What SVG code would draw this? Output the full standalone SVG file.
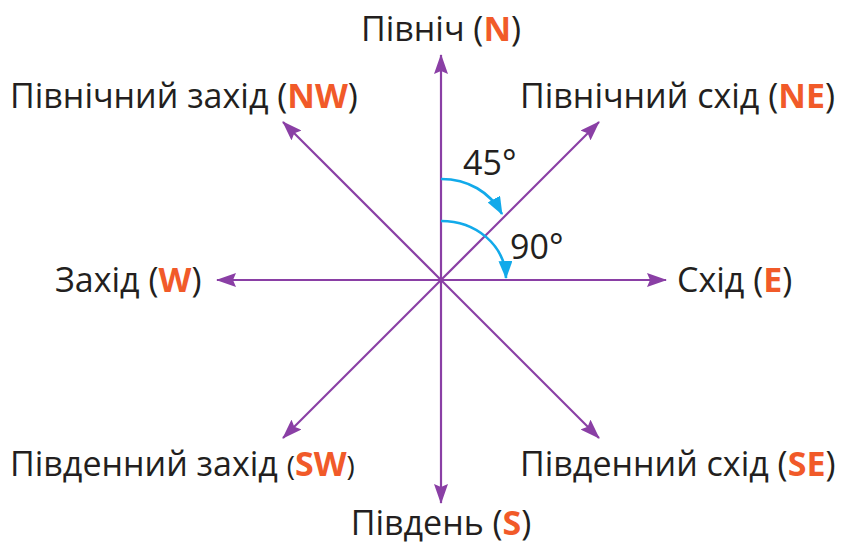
<svg xmlns="http://www.w3.org/2000/svg" width="847" height="545" viewBox="0 0 847 545">
<style>
.t{font-family:"Open Sans","Noto Sans","DejaVu Sans",sans-serif;font-size:34px;fill:#231f20}
.o{fill:#f15a29;font-weight:bold}
.ax{stroke:#8a3fa5;stroke-width:2.2;fill:none;marker-end:url(#pa)}
.arc{stroke:#12aaea;stroke-width:2.6;fill:none;marker-end:url(#ca)}
</style>
<defs>
<marker id="pa" viewBox="0 0 20 14" refX="19" refY="7" markerWidth="20" markerHeight="14" markerUnits="userSpaceOnUse" orient="auto"><path d="M0,0 L20,7 L0,14 L3,7 Z" fill="#8a3fa5"/></marker>
<marker id="ca" viewBox="0 0 18 14" refX="17" refY="7" markerWidth="18" markerHeight="14" markerUnits="userSpaceOnUse" orient="auto"><path d="M0,0 L18,7 L0,14 Z" fill="#12aaea"/></marker>
</defs>
<g id="connectors">
<line class="ax" x1="441" y1="280" x2="441" y2="55"/>
<line class="ax" x1="441" y1="280" x2="441" y2="503"/>
<line class="ax" x1="441" y1="280" x2="217" y2="280"/>
<line class="ax" x1="441" y1="280" x2="666" y2="280"/>
<line class="ax" x1="441" y1="280" x2="599" y2="122"/>
<line class="ax" x1="441" y1="280" x2="283" y2="122"/>
<line class="ax" x1="441" y1="280" x2="283" y2="438"/>
<line class="ax" x1="441" y1="280" x2="599" y2="438"/>
<path class="arc" d="M441,179 C468,179 490,192 502,214"/>
<path class="arc" d="M441,221 C476,221 505,245 506,278"/>
</g>
<g id="n-north"><text class="t" x="441" y="41" text-anchor="middle">Північ (<tspan class="o">N</tspan>)</text></g>
<g id="n-northwest"><text class="t" x="10" y="108">Північний захід (<tspan class="o">NW</tspan>)</text></g>
<g id="n-northeast"><text class="t" x="520" y="108">Північний схід (<tspan class="o">NE</tspan>)</text></g>
<g id="n-west"><text class="t" x="55" y="292">Захід (<tspan class="o">W</tspan>)</text></g>
<g id="n-east"><text class="t" x="677" y="292">Схід (<tspan class="o">E</tspan>)</text></g>
<g id="n-southwest"><text class="t" x="10" y="476">Південний захід <tspan font-size="28">(</tspan><tspan class="o">SW</tspan><tspan font-size="28">)</tspan></text></g>
<g id="n-southeast"><text class="t" x="520" y="476">Південний схід (<tspan class="o">SE</tspan>)</text></g>
<g id="n-south"><text class="t" x="441" y="535" text-anchor="middle">Південь (<tspan class="o">S</tspan>)</text></g>
<g id="a45"><text class="t" x="463" y="175">45°</text></g>
<g id="a90"><text class="t" x="510" y="259">90°</text></g>
</svg>
